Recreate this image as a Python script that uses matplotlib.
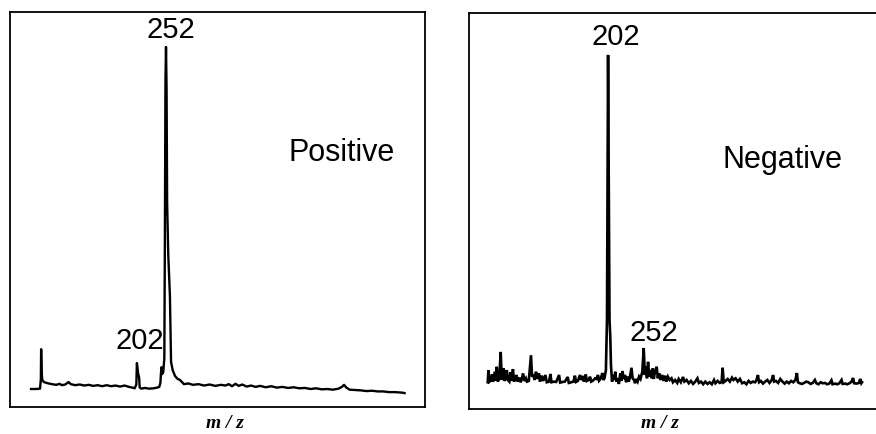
import matplotlib
matplotlib.use("Agg")
import matplotlib.pyplot as plt

# ---------------- data ----------------
# Positive-ion spectrum (m/z, relative intensity)
pos_mz = [11, 20, 27, 28.5, 29, 30, 31, 34, 40, 48, 56, 62, 66, 72, 78, 82, 90, 98,
          106, 114, 122, 130, 138, 146, 154, 162, 170, 178, 186, 192, 196, 199, 200,
          201, 202, 204, 205, 208, 214, 222, 230, 236, 240, 242, 243, 244, 245, 247,
          249, 250, 251, 252, 253, 254, 256, 259, 261, 264, 268, 272, 277, 284, 292,
          300, 310, 320, 330, 340, 350, 358, 364, 370, 376, 382, 388, 396, 404, 412,
          420, 430, 440, 450, 460, 470, 480, 490, 500, 510, 520, 530, 540, 550, 560,
          566, 570, 574, 580, 590, 600, 610, 620, 630, 640, 650, 660, 670, 676, 678]
pos_int = [1.2, 1.2, 1.3, 4.0, 12.7, 6.0, 3.8, 3.2, 2.9, 2.6, 2.4, 2.7, 2.3, 2.5, 3.2,
           2.6, 2.3, 2.5, 2.2, 2.4, 2.1, 2.3, 2.0, 2.3, 2.0, 2.2, 1.9, 2.2, 1.8, 1.6,
           1.4, 2.5, 8.7, 7.5, 5.8, 4.5, 1.6, 1.3, 1.5, 1.3, 1.4, 1.6, 1.8, 3.0, 5.8,
           7.5, 5.5, 6.0, 10.0, 45.0, 90.0, 100.0, 88.0, 55.0, 40.0, 28.0, 9.0, 6.6,
           5.0, 4.2, 3.8, 2.6, 2.8, 2.4, 2.6, 2.2, 2.5, 2.1, 2.4, 2.2, 2.6, 2.0, 2.7,
           2.1, 2.5, 1.9, 2.2, 1.8, 2.1, 1.7, 2.0, 1.6, 1.8, 1.5, 1.7, 1.4, 1.5, 1.2,
           1.4, 1.1, 1.2, 1.0, 1.3, 1.8, 2.4, 1.6, 1.0, 0.9, 0.8, 0.6, 0.7, 0.5, 0.5,
           0.3, 0.3, 0.2, 0.1, 0.0]

# Negative-ion spectrum (m/z, relative intensity)
neg_mz = [35, 36, 37.5, 40, 41, 42, 44, 45, 46, 47.5, 49, 51, 53, 54.5, 56, 57, 58.5,
          60, 61.5, 63, 65, 66.5, 68, 70, 71.5, 73, 75, 76.5, 79, 80.5, 82, 84, 86, 88,
          89.5, 92, 95, 96.5, 98, 100, 102, 103.5, 106, 107.5, 110, 112, 115, 117, 120,
          122, 123.5, 127, 130, 134, 135.5, 139, 142, 146, 147.5, 151, 154, 156, 157.5,
          160, 163, 164.5, 167, 168.5, 171, 172.5, 175, 177, 178.5, 181, 184, 186, 188,
          189.5, 192, 194, 195.5, 197, 199, 200.5, 201.5, 202, 203, 204, 205, 206,
          207.5, 209, 210.5, 212, 213.5, 215, 217, 219, 220.5, 222, 223.5, 225.5, 227,
          229, 230.5, 232, 234.5, 236, 238, 239.5, 241, 243, 245, 247, 249.5, 251.5,
          253, 254.5, 256, 257.5, 259, 261, 262.5, 264, 265.5, 267, 269.5, 271, 273,
          275, 277, 279, 281, 283, 285, 287.5, 290, 292, 295, 298, 300, 303, 306, 308,
          311, 314, 317, 320, 323, 326, 328, 331, 334, 337, 340, 343, 346, 349, 351,
          354, 357, 359.5, 361, 362.5, 365, 368, 371, 374, 376, 379, 382, 385, 388,
          391, 394, 397, 400, 403, 406, 408, 410, 411.5, 414, 417, 420, 423, 426, 429,
          431, 432.5, 435, 438, 441, 444, 447, 450, 453, 456, 459, 462, 464, 465.5,
          468, 471, 474, 477, 480, 483, 486, 489, 491, 494, 497, 500, 503, 506, 509,
          512, 513.5, 517, 520, 523, 526, 527.5, 531, 534, 537, 540, 542, 543.5, 547,
          550, 552, 553.5, 554.5]
neg_int = [0.8, 4.5, 1.0, 1.5, 3.2, 1.0, 1.8, 4.0, 1.2, 5.5, 1.0, 2.0, 10.0, 1.5, 3.0,
           5.0, 1.2, 2.0, 4.5, 1.5, 1.0, 3.8, 1.2, 4.8, 1.0, 1.8, 3.0, 1.0, 2.2, 0.8,
           1.5, 3.5, 1.2, 2.0, 1.0, 1.2, 9.0, 2.5, 3.2, 1.5, 4.0, 1.8, 3.5, 1.0, 2.8,
           1.2, 3.0, 0.8, 1.0, 3.3, 0.8, 1.0, 0.9, 3.0, 0.7, 0.9, 1.0, 2.4, 0.6, 0.8,
           1.0, 2.8, 0.9, 1.2, 3.0, 1.5, 2.7, 1.0, 3.2, 1.2, 1.5, 2.5, 1.0, 1.3, 2.0,
           1.8, 3.0, 1.3, 2.0, 3.6, 1.5, 2.0, 4.5, 20.0, 70.0, 100.0, 60.0, 19.7, 15.0,
           6.0, 1.0, 3.0, 1.5, 4.0, 1.0, 2.0, 0.3, 3.5, 1.2, 4.2, 1.8, 3.0, 0.8, 2.5,
           1.0, 2.0, 5.2, 2.0, 1.5, 0.5, 1.8, 1.0, 2.5, 1.8, 4.0, 11.2, 3.0, 5.5, 2.0,
           7.0, 2.5, 4.5, 2.0, 5.0, 1.8, 4.0, 5.5, 2.0, 3.5, 1.5, 3.0, 1.2, 2.8, 1.0,
           2.5, 1.5, 2.0, 0.8, 1.5, 0.6, 1.8, 0.8, 2.4, 1.0, 1.5, 0.5, 1.2, 0.3, 1.0,
           2.0, 0.6, 1.0, 0.2, 1.0, 0.3, 0.8, 0.2, 1.5, 0.5, 1.2, 0.6, 0.8, 5.2, 0.8,
           1.2, 1.8, 1.0, 2.2, 1.5, 2.0, 1.0, 1.8, 0.5, 0.8, 0.2, 1.2, 0.6, 1.0, 0.8,
           1.5, 3.0, 0.8, 1.2, 0.4, 1.0, 1.5, 0.6, 1.4, 3.0, 1.0, 1.2, 0.6, 1.8, 1.0,
           0.4, 1.0, 0.5, 1.2, 0.8, 1.5, 3.6, 0.8, 0.5, 0.3, 0.6, 1.0, 0.8, 0.3, 0.6,
           1.5, 0.5, 0.2, 0.8, 0.5, 0.6, 0.2, 0.4, 1.4, 0.2, 0.4, 0.2, 0.5, 1.5, 0.3,
           0.4, 0.2, 0.5, 1.0, 2.1, 0.5, 0.4, 0.6, 1.8, 0.5, 0.8]

pos_labels = ["252", "202"]
neg_labels = ["202", "252"]
panel_names = ["Positive", "Negative"]
xlabel_text = "m / z"

# ---------------- figure ----------------
W, H = 876, 434
fig = plt.figure(figsize=(W / 100, H / 100), dpi=100)

def frac(x0, y0, x1, y1):
    return [x0 / W, 1 - y1 / H, (x1 - x0) / W, (y1 - y0) / H]

num_font = dict(family="Liberation Sans", fontsize=21, color="black",
                ha="center", va="center")
name_font = dict(family="Liberation Sans", fontsize=22, color="black",
                 ha="center", va="center")

# Left panel
axL = fig.add_axes(frac(10, 12, 425, 407))
axL.plot(pos_mz, pos_int, color="black", lw=1.7, solid_joinstyle="round")
axL.set_xlim(-26.6, 714.5)
axL.set_ylim(-4.0, 110.1)
axL.text(260, 104.8, pos_labels[0], **num_font)
axL.text(205.6, 15.0, pos_labels[1], **num_font)
axL.text(566, 69.4, panel_names[0], **name_font)

# Right panel
axR = fig.add_axes(frac(469, 13, 878, 409))
axR.plot(neg_mz, neg_int, color="black", lw=1.9, solid_joinstyle="miter")
axR.set_xlim(9, 576.6)
axR.set_ylim(-7.3, 112.7)
axR.text(212.3, 105.5, neg_labels[0], **num_font)
axR.text(265.5, 15.8, neg_labels[1], **num_font)
axR.text(444.6, 68.2, panel_names[1], **name_font)
axR.spines["right"].set_visible(False)

for ax in (axL, axR):
    ax.set_xticks([])
    ax.set_yticks([])
    for s in ax.spines.values():
        s.set_linewidth(1.3)
        s.set_color("black")

fig.text(225 / W, 1 - 424 / H, xlabel_text, ha="center", va="center",
         family="Liberation Serif", style="italic", weight="bold", fontsize=14)
fig.text(660 / W, 1 - 424 / H, xlabel_text, ha="center", va="center",
         family="Liberation Serif", style="italic", weight="bold", fontsize=14)

fig.savefig("out.png", dpi=100, facecolor="white")
